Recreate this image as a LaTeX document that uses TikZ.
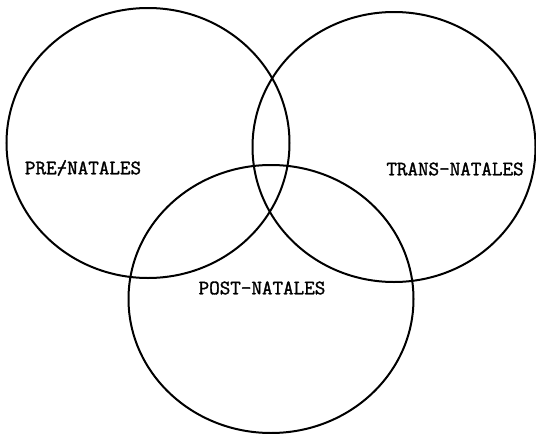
\documentclass[tikz,border=0pt]{standalone}
\usepackage{fontspec}
\newfontfamily\typew{Latin Modern Mono}[UprightFeatures={FakeBold=1.5}]
\usepackage{tikz}
\usetikzlibrary{shapes.geometric}

\begin{document}
\begin{tikzpicture}[
    x=1pt, y=-1pt,
    ring/.style={draw, ellipse, line width=2pt, minimum width=283pt, minimum height=270pt, inner sep=0pt},
    lbl/.style={font=\typew\fontsize{20.5}{21}\selectfont, inner sep=0pt},
  ]
    \useasboundingbox (0,0) rectangle (536,434);
    \node[ring] (pre) at (148,143) {};
    \node[ring] (trans) at (394,147) {};
    \node[ring, minimum width=285pt, minimum height=268pt] (post) at (271,299) {};

    \node[lbl] (prelbl) at (83,168) {PRE\makebox[0pt][l]{/}-NATALES};
    \node[lbl] (translbl) at (455,169) {TRANS-NATALES};
    \node[lbl] (postlbl) at (262,288) {POST-NATALES};
  \end{tikzpicture}
\end{document}
